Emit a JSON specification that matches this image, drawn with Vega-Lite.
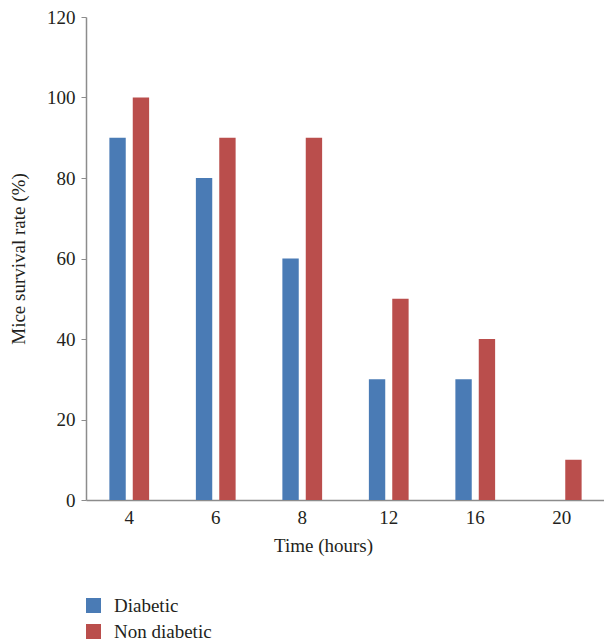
{
  "$schema": "https://vega.github.io/schema/vega-lite/v6.json",
  "width": 519,
  "height": 483,
  "padding": {"left": 9, "top": 8, "right": 0, "bottom": 0},
  "background": "white",
  "config": {
    "view": {"stroke": null},
    "font": "Liberation Serif"
  },
  "data": {
    "values": [
      {"time": "4", "group": "Diabetic", "rate": 90},
      {"time": "4", "group": "Non diabetic", "rate": 100},
      {"time": "6", "group": "Diabetic", "rate": 80},
      {"time": "6", "group": "Non diabetic", "rate": 90},
      {"time": "8", "group": "Diabetic", "rate": 60},
      {"time": "8", "group": "Non diabetic", "rate": 90},
      {"time": "12", "group": "Diabetic", "rate": 30},
      {"time": "12", "group": "Non diabetic", "rate": 50},
      {"time": "16", "group": "Diabetic", "rate": 30},
      {"time": "16", "group": "Non diabetic", "rate": 40},
      {"time": "20", "group": "Diabetic", "rate": 0},
      {"time": "20", "group": "Non diabetic", "rate": 10}
    ]
  },
  "mark": {"type": "bar"},
  "encoding": {
    "x": {
      "field": "time",
      "type": "nominal",
      "sort": ["4", "6", "8", "12", "16", "20"],
      "scale": {"paddingInner": 0, "paddingOuter": 0},
      "axis": {
        "title": "Time (hours)",
        "labelAngle": 0,
        "ticks": false,
        "domainColor": "#8c8c8c",
        "domainWidth": 1.5,
        "labelFontSize": 19,
        "labelColor": "#231f20",
        "labelPadding": 8,
        "titleFontSize": 19,
        "titleFontWeight": "normal",
        "titleColor": "#231f20",
        "titlePadding": 9,
        "titleX": 237
      }
    },
    "xOffset": {
      "field": "group",
      "type": "nominal",
      "scale": {"paddingInner": 0.3, "paddingOuter": 1.3}
    },
    "y": {
      "field": "rate",
      "type": "quantitative",
      "scale": {"domain": [0, 120]},
      "axis": {
        "title": "Mice survival rate (%)",
        "values": [0, 20, 40, 60, 80, 100, 120],
        "grid": false,
        "domainColor": "#8c8c8c",
        "domainWidth": 1.5,
        "tickColor": "#8c8c8c",
        "tickSize": 5,
        "labelFontSize": 19,
        "labelColor": "#231f20",
        "labelPadding": 6,
        "titleFontSize": 19,
        "titleFontWeight": "normal",
        "titleColor": "#231f20",
        "titlePadding": 18
      }
    },
    "color": {
      "field": "group",
      "type": "nominal",
      "scale": {"domain": ["Diabetic", "Non diabetic"], "range": ["#4A7BB5", "#BA4E4C"]},
      "legend": {
        "title": null,
        "orient": "none",
        "legendX": -2,
        "legendY": 579,
        "direction": "vertical",
        "symbolType": "square",
        "symbolSize": 225,
        "symbolStrokeWidth": 0,
        "labelFontSize": 19,
        "labelColor": "#231f20",
        "labelOffset": 11,
        "rowPadding": 6
      }
    }
  }
}
